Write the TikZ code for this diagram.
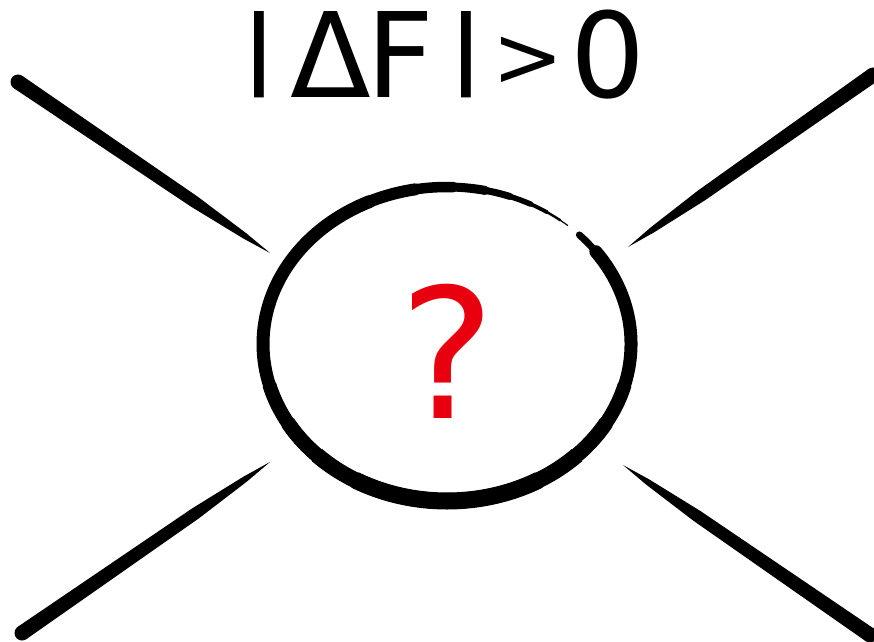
\documentclass[tikz,border=0pt]{standalone}
\usepackage{fontspec}
\usepackage{graphicx}
\setmainfont{DejaVu Sans}
\usetikzlibrary{calc}

\definecolor{ink}{HTML}{000000}
\definecolor{qred}{HTML}{E8000E}

\newcommand{\tallbar}{\raisebox{0.173em}{\scalebox{1}[0.732]{|}}}
\newcommand{\smallgt}{\raisebox{0.1em}{\scalebox{0.72}{>}}}
\newcommand{\brushstroke}[2]{%
  \coordinate (#1-mid) at ($(#1)!0.7!(#2)$);
  \coordinate (#1-end) at ($(#1)!0.9!(#2)$);
  \fill[ink] (#1) circle (7.5pt);
  \fill[ink] ($(#1)!7.5pt!90:(#2)$) -- ($(#1-mid)!6pt!90:(#2)$) -- ($(#1-end)!3pt!90:(#2)$) -- (#2)
    -- ($(#1-end)!3pt!-90:(#2)$) -- ($(#1-mid)!6pt!-90:(#2)$) -- ($(#1)!7.5pt!-90:(#2)$) -- cycle;}

\begin{document}
\begin{tikzpicture}[x=1pt, y=1pt,
    ring/.style={draw=ink, line cap=round, line width=13pt},
    title/.style={anchor=base west, inner sep=0pt, font=\fontsize{118}{130}\selectfont},
    query/.style={anchor=base, inner sep=0pt, text=qred, font=\fontsize{181}{200}\selectfont}
]
\useasboundingbox (0,0) rectangle (874,641);

\coordinate (c) at (447,297);

\node[title] (gap) at (239,543) {\tallbar\kern12pt Δ\kern-5pt F\kern12pt\tallbar\kern6pt\smallgt\kern7pt 0};
\node[query] (unknown) at (448,223) {?};

\draw[ring, line width=7pt] ($(c)+(44:184 and 157)$) arc[start angle=44, end angle=36, x radius=184, y radius=157];
\draw[ring] ($(c)+(36:184 and 157)$) arc[start angle=36, end angle=-245, x radius=184, y radius=157];
\foreach \a/\w in {15/14, 30/15, 45/16, 60/17}
  \draw[ring, line cap=butt, line width=\w pt] ($(c)+(-180+\a:184 and 157)$) arc[start angle=-180+\a, end angle=-\a, x radius=184, y radius=157];
\foreach \s/\e/\w in {115/100/12, 100/88/10.5, 88/78/9, 78/70/7, 70/63/5.5, 63/57/3.8, 57/52/2.4, 52/49/1.2}
  \draw[ring, line width=\w pt] ($(c)+(\s:184 and 157)$) arc[start angle=\s, end angle=\e, x radius=184, y radius=157];

\coordinate (nw) at (18,559);
\coordinate (nw-tip) at (270,388);
\coordinate (ne) at (873,566);
\coordinate (ne-tip) at (628,394);
\coordinate (sw) at (22,8);
\coordinate (sw-tip) at (270,179);
\coordinate (se) at (870,6);
\coordinate (se-tip) at (623,176);

\brushstroke{nw}{nw-tip}
\brushstroke{ne}{ne-tip}
\brushstroke{sw}{sw-tip}
\brushstroke{se}{se-tip}

\end{tikzpicture}
\end{document}
